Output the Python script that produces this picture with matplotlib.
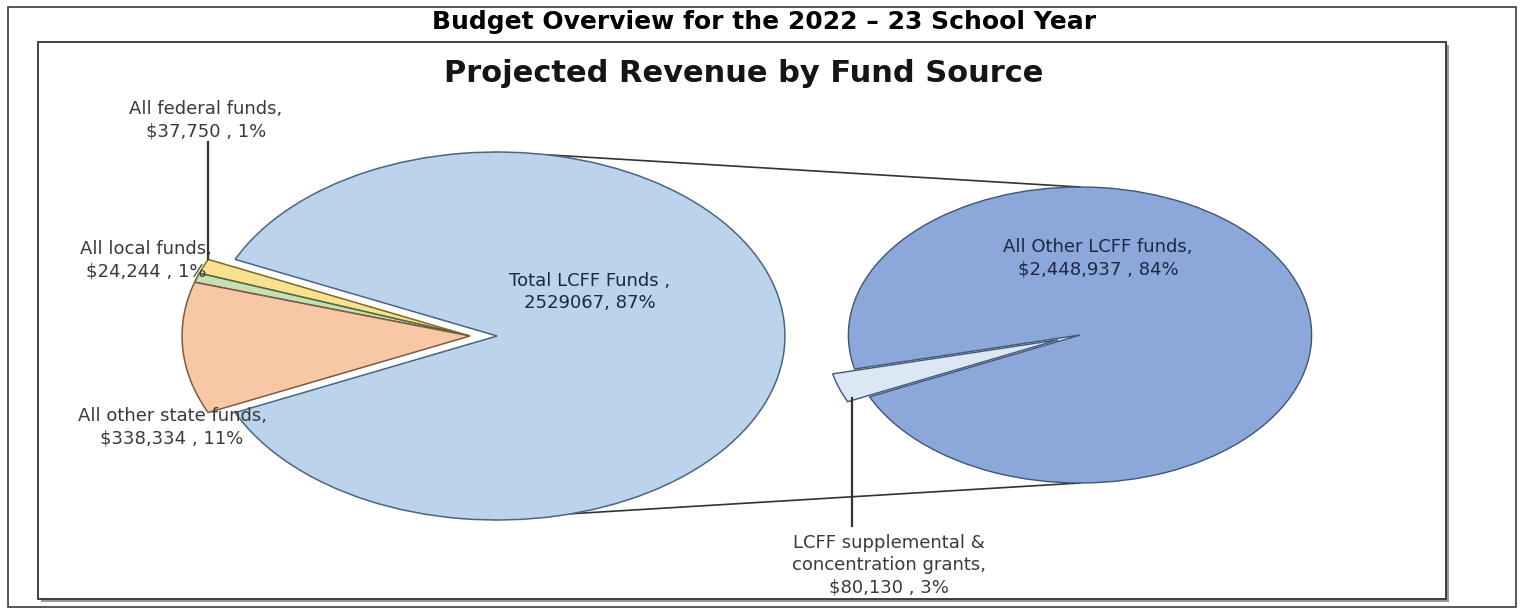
import numpy as np
import matplotlib.pyplot as plt
from matplotlib.patches import Rectangle

# --- data ---
main_names = ["Total LCFF Funds", "All federal funds", "All local funds", "All other state funds"]
main_values = [2529067, 37750, 24244, 338334]
main_text = ["Total LCFF Funds ,\n2529067, 87%",
             "All federal funds,\n$37,750 , 1%",
             "All local funds,\n$24,244 , 1%",
             "All other state funds,\n$338,334 , 11%"]
sub_names = ["All Other LCFF funds", "LCFF supplemental & concentration grants"]
sub_values = [2448937, 80130]
sub_text = ["All Other LCFF funds,\n$2,448,937 , 84%",
            "LCFF supplemental &\nconcentration grants,\n$80,130 , 3%"]

main_colors = ["#BBD4EC", "#FAE08F", "#C6DFB5", "#F7C7A6"]
main_edges = ["#4A6582", "#7A6A2A", "#4E6B3A", "#7D5A45"]
sub_colors = ["#8CA8DA", "#DCE7F4"]
sub_edges = ["#3E5676", "#3E5676"]

W, H = 1522, 611
SX = 1.565   # the original picture is stretched sideways


def P(x, y):
    # pixel position -> data position
    return (x / SX, H - y)


fig = plt.figure(figsize=(W / 100, H / 100), dpi=100)
ax = fig.add_axes([0, 0, 1, 1])

# frames
ax.add_patch(Rectangle(P(8, 607), 1508 / SX, 600, fill=False, ec="#3C3C3C", lw=1.2, zorder=0.1))
ax.add_patch(Rectangle(P(41, 602), 1408 / SX, 557, fc="#9A9A9A", ec="none", zorder=0.1))
ax.add_patch(Rectangle(P(38, 599), 1408 / SX, 557, fc="white", ec="#333333", lw=1.3, zorder=0.2))

# main pie: small slices grouped round 180 deg, LCFF pulled to the right
# (pie's explode is in data units here, not a fraction of the radius)
tot = sum(main_values)
small_deg = 360 * sum(main_values[1:]) / tot
R1 = 184
w1, _ = ax.pie(main_values, colors=main_colors, startangle=180 + small_deg / 2,
               counterclock=True, explode=[27 / SX, 0, 0, 0],
               center=P(470, 336), radius=R1,
               wedgeprops=dict(linewidth=1.1))
for w, e in zip(w1, main_edges):
    w.set_edgecolor(e)

# second pie
sub_deg = 360 * sub_values[1] / sum(sub_values)
R2 = 148
w2, _ = ax.pie(sub_values, colors=sub_colors, startangle=199 + sub_deg / 2,
               counterclock=True, explode=[0, 0.1 * R2],
               center=P(1080, 335), radius=R2,
               wedgeprops=dict(linewidth=1.0))
for w, e in zip(w2, sub_edges):
    w.set_edgecolor(e)

# connector lines between the pies
c1 = np.array(w1[0].center)
c2 = np.array(w2[0].center)
for ang, sgn in [(80, 1), (-75, -1)]:
    a = np.radians(ang)
    p0 = c1 + R1 * np.array([np.cos(a), np.sin(a)])
    p1 = c2 + np.array([0, sgn * R2])
    ax.plot([p0[0], p1[0]], [p0[1], p1[1]], color="#333333", lw=1.2, zorder=0.8)

# leader lines
fed = w1[1]
a = np.radians(fed.theta1)
tip = np.array(fed.center) + fed.r * np.array([np.cos(a), np.sin(a)])
ax.plot([tip[0], tip[0]], [P(0, 142)[1], tip[1]], color="#333333", lw=1.6, zorder=3)
sup = w2[1]
a = np.radians(sup.theta2 - 1)
tip = np.array(sup.center) + sup.r * 0.97 * np.array([np.cos(a), np.sin(a)])
ax.plot([tip[0], tip[0]], [tip[1], P(0, 526)[1]], color="#333333", lw=1.6, zorder=3)

# titles
ax.text(*P(764, 22), "Budget Overview for the 2022 \u2013 23 School Year", ha="center", va="center",
        fontsize=18, fontweight="bold", family="DejaVu Sans", color="black")
ax.text(*P(744, 74), "Projected Revenue by Fund Source", ha="center", va="center",
        fontsize=22, fontweight="bold", family="DejaVu Sans", color="#151515")

# labels
lab = dict(ha="center", va="center", fontsize=13, family="DejaVu Sans", linespacing=1.3, zorder=4)
ax.text(*P(590, 292), main_text[0], color="#1C2740", **lab)
ax.text(*P(206, 120), main_text[1], color="#3A3A3A", **lab)
ax.text(*P(146, 260), main_text[2], color="#3A3A3A", **lab)
ax.text(*P(172, 427), main_text[3], color="#3A3A3A", **lab)
ax.text(*P(1098, 258), sub_text[0], color="#1C2740", **lab)
ax.text(*P(889, 565), sub_text[1], color="#3A3A3A", **lab)

ax.set_xlim(0, W / SX)
ax.set_ylim(0, H)
ax.set_aspect("auto")
ax.axis("off")
fig.savefig("out.png", dpi=100)
